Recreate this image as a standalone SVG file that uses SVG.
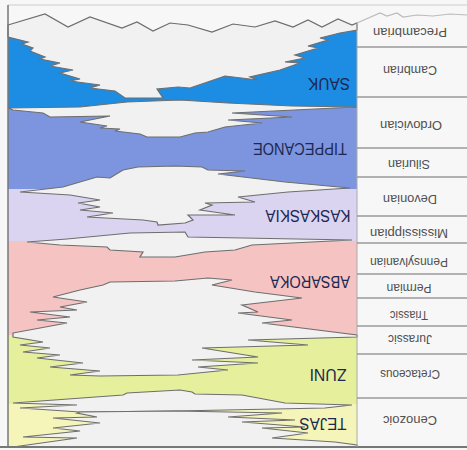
<svg xmlns="http://www.w3.org/2000/svg" width="467" height="450" viewBox="0 0 467 450">
<style>
.lens{fill:#f1f1f1;stroke:#6e6e6e;stroke-width:1.2;stroke-linejoin:miter}
.seq{font-family:"Liberation Sans",Arial,sans-serif;font-size:16px;fill:#1d2850}
.per{font-family:"Liberation Sans",Arial,sans-serif;font-size:12px;fill:#505050}
.rule{stroke:#9a9a9a;stroke-width:1.3}
</style>
<rect width="467" height="450" fill="#f7f7f7"/>
<g id="bands">
<rect x="8" y="24" width="349" height="84" fill="#1c8de2"/>
<rect x="8" y="108" width="349" height="81" fill="#7c95de"/>
<rect x="8" y="189" width="349" height="52" fill="#dad4f1"/>
<rect x="8" y="241" width="349" height="94" fill="#f6c3c3"/>
<rect x="8" y="335" width="349" height="69" fill="#e6f09c"/>
<rect x="8" y="404" width="349" height="43" fill="#f5f5b9"/>
</g>
<g id="gaps">
<polygon fill="#f7f7f7" points="8,0 357,0 357,23 352,25 338,19 322,27 308,20 293,27 275,21 255,27 233,24 212,32 188,25 170,23 153,31 137,22 122,28 90,17 68,27 45,14 8,25"/>
<polygon class="lens" points="8,25 45,14 68,27 90,17 122,28 137,22 153,31 170,23 188,25 212,32 233,24 255,27 275,21 293,27 308,20 322,27 338,19 352,25 357,23 357,30 340,33 320,38 328,40 308,46 318,48 295,55 305,58 285,62 300,63 280,70 250,77 258,80 225,76 190,88 178,87 157,89 163,98 125,98 115,91 90,88 100,85 70,81 80,79 60,73 73,70 50,66 60,63 40,59 45,57 30,51 33,48 22,44 28,42 8,37"/>
<polygon class="lens" points="8,108 80,107 127,102 180,100 228,103 292,106 357,107 315,109 232,113 292,117 228,120 262,123 225,127 208,132 195,133 180,137 147,137 140,134 115,131 120,129 100,128 107,126 80,122 110,116 50,117 43,113 13,110"/>
<polygon class="lens" points="20,192 63,187 97,177 110,178 123,170 138,167 175,166 202,167 208,170 245,171 218,174 285,182 350,188 288,192 238,197 255,202 205,203 212,205 200,210 235,215 188,215 193,220 185,223 158,225 157,222 143,220 87,217 113,213 80,210 100,207 78,203 100,200 70,195"/>
<polygon class="lens" points="27,242 67,239 130,233 185,232 188,237 352,240 252,245 235,250 205,252 175,257 140,257 143,252 110,250 107,247 60,245"/>
<polygon class="lens" points="13,333 67,323 37,320 70,317 30,312 77,310 60,307 87,302 53,297 80,290 103,285 110,282 175,281 208,278 232,280 212,285 255,292 302,298 242,305 258,312 238,313 292,320 262,323 357,335 357,337 248,340 308,345 202,348 258,357 192,360 258,363 198,367 228,370 178,375 100,376 70,375 100,371 50,367 83,363 37,358 60,355 23,352 50,348 20,345 43,342 13,337"/>
<polygon class="lens" points="13,403 123,395 127,393 180,390 192,392 195,394 242,395 285,403 352,405 325,408 175,411 80,412 20,408 77,405"/>
<polygon class="lens" points="80,412 175,411 282,413 228,417 295,420 242,422 305,427 262,428 308,433 272,438 335,442 357,445 357,447 13,447 77,438 23,437 80,431 53,428 100,423 53,418 97,417 77,413"/>
</g>
<g id="frame" fill="none">
<line x1="8" y1="5" x2="467" y2="5" stroke="#cccccc" stroke-width="1"/>
<line x1="8" y1="5" x2="8" y2="447" stroke="#777" stroke-width="1.5"/>
<line x1="0" y1="447" x2="467" y2="447" stroke="#777" stroke-width="2"/>
<line x1="357" y1="23" x2="357" y2="447" stroke="#aaaaaa" stroke-width="1"/>
<polyline points="357,23 380,13 387,16 397,13 403,17 417,15 433,16 450,14 467,15" stroke="#bbbbbb" stroke-width="1.2"/>
<g class="rule">
<line x1="357" y1="47" x2="467" y2="47"/>
<line x1="357" y1="97" x2="467" y2="97"/>
<line x1="357" y1="148" x2="467" y2="148"/>
<line x1="357" y1="177" x2="467" y2="177"/>
<line x1="357" y1="216" x2="467" y2="216"/>
<line x1="357" y1="243" x2="467" y2="243"/>
<line x1="357" y1="274" x2="467" y2="274"/>
<line x1="357" y1="298" x2="467" y2="298"/>
<line x1="357" y1="326" x2="467" y2="326"/>
<line x1="357" y1="354" x2="467" y2="354"/>
<line x1="357" y1="398" x2="467" y2="398"/>
</g>
</g>
<g id="sequence-labels" text-anchor="middle">
<text class="seq" x="329" y="89.7" transform="rotate(180 329 84)" textLength="42" lengthAdjust="spacingAndGlyphs">SAUK</text>
<text class="seq" x="300" y="154.7" transform="rotate(180 300 149)" textLength="94" lengthAdjust="spacingAndGlyphs">TIPPECANOE</text>
<text class="seq" x="308" y="221.7" transform="rotate(180 308 216)" textLength="85" lengthAdjust="spacingAndGlyphs">KASKASKIA</text>
<text class="seq" x="310" y="287.2" transform="rotate(180 310 281.5)" textLength="80" lengthAdjust="spacingAndGlyphs">ABSAROKA</text>
<text class="seq" x="328" y="380.7" transform="rotate(180 328 375)" textLength="37" lengthAdjust="spacingAndGlyphs">ZUNI</text>
<text class="seq" x="323" y="429.2" transform="rotate(180 323 423.5)" textLength="47" lengthAdjust="spacingAndGlyphs">TEJAS</text>
</g>
<g id="period-labels" text-anchor="middle">
<text class="per" x="410" y="36.8" transform="rotate(180 410 32.5)" textLength="74" lengthAdjust="spacingAndGlyphs">Precambrian</text>
<text class="per" x="410" y="74.3" transform="rotate(180 410 70)" textLength="54" lengthAdjust="spacingAndGlyphs">Cambrian</text>
<text class="per" x="411" y="129.3" transform="rotate(180 411 125)" textLength="62" lengthAdjust="spacingAndGlyphs">Ordovician</text>
<text class="per" x="409" y="168.3" transform="rotate(180 409 164)" textLength="42" lengthAdjust="spacingAndGlyphs">Silurian</text>
<text class="per" x="410" y="203.3" transform="rotate(180 410 199)" textLength="54" lengthAdjust="spacingAndGlyphs">Devonian</text>
<text class="per" x="409" y="237.3" transform="rotate(180 409 233)" textLength="78" lengthAdjust="spacingAndGlyphs">Mississippian</text>
<text class="per" x="409" y="266.3" transform="rotate(180 409 262)" textLength="78" lengthAdjust="spacingAndGlyphs">Pennsylvanian</text>
<text class="per" x="409" y="292.3" transform="rotate(180 409 288)" textLength="45" lengthAdjust="spacingAndGlyphs">Permian</text>
<text class="per" x="409" y="319.3" transform="rotate(180 409 315)" textLength="38" lengthAdjust="spacingAndGlyphs">Triassic</text>
<text class="per" x="410" y="343.3" transform="rotate(180 410 339)" textLength="44" lengthAdjust="spacingAndGlyphs">Jurassic</text>
<text class="per" x="410" y="378.3" transform="rotate(180 410 374)" textLength="60" lengthAdjust="spacingAndGlyphs">Cretaceous</text>
<text class="per" x="410" y="424.3" transform="rotate(180 410 420)" textLength="54" lengthAdjust="spacingAndGlyphs">Cenozoic</text>
</g>
</svg>
